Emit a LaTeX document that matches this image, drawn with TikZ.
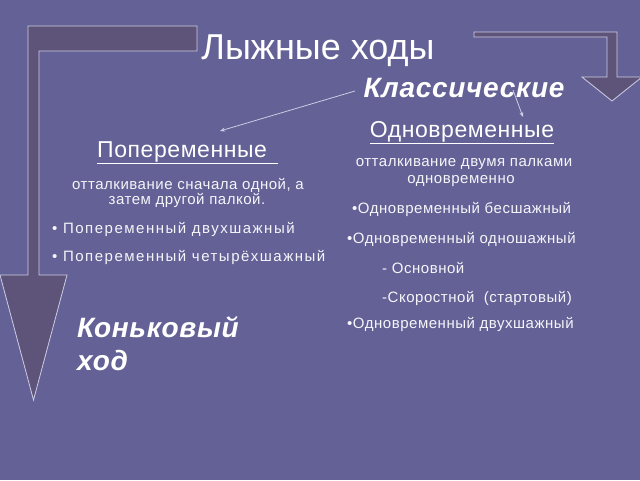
\documentclass[tikz,border=0pt]{standalone}
\usepackage{fontspec}
\setmainfont{Liberation Sans}
\newfontfamily\bodyfont[LetterSpace=3.5]{Liberation Sans}
\newfontfamily\widefont[LetterSpace=10]{Liberation Sans}
\newfontfamily\headfont[LetterSpace=2.5]{Liberation Sans}
\newfontfamily\subfont[LetterSpace=2.5]{Liberation Sans}
\usetikzlibrary{arrows.meta}
\definecolor{bg}{RGB}{99,97,149}
\definecolor{arrfill}{RGB}{94,84,122}
\definecolor{arredge}{RGB}{205,205,228}
\definecolor{txt}{RGB}{245,245,250}
\begin{document}
\begin{tikzpicture}[x=1pt,y=-1pt,
  bent/.style={fill=arrfill,draw=arredge,line width=0.8pt,line join=miter},
  conn/.style={draw=arredge,line width=0.8pt,-{Stealth[length=5pt,width=4pt]}},
  ttl/.style={text=white,inner sep=0pt,font=\fontsize{36}{40}\selectfont},
  head/.style={text=white,inner sep=0pt,font=\headfont\fontsize{28}{31}\selectfont\bfseries\itshape},
  sub/.style={text=white,inner sep=0pt,font=\subfont\fontsize{23}{26}\selectfont},
  body/.style={text=txt,inner sep=0pt,font=\bodyfont\fontsize{15}{17}\selectfont},
  wbody/.style={text=txt,inner sep=0pt,font=\widefont\fontsize{15}{17}\selectfont}]
\useasboundingbox (0,0) rectangle (640,480);
\fill[bg] (0,0) rectangle (640,480);
% left bent arrow
\draw[bent] (28,26) -- (197,26) -- (197,51) -- (39,51) -- (39,275) -- (67,275)
  -- (33.5,400) -- (0,275) -- (28,275) -- cycle;
% right bent arrow
\draw[bent] (474,32) -- (617,32) -- (617,77) -- (642,77) -- (612,101) -- (582,77)
  -- (607,77) -- (607,37) -- (474,37) -- cycle;
% title
\node[ttl,anchor=base] (title) at (318,59) {Лыжные ходы};
\node[head,anchor=base] (klass) at (464,97) {Классические};
\node[sub,anchor=base] (odn) at (462,137) {\underline{Одновременные}};
\node[sub,anchor=base west] (pop) at (97,157) {\underline{Попеременные\ \,}};
% connectors
\coordinate (k1) at (355,91);
\coordinate (k1e) at (220,131);
\coordinate (k2) at (513,90);
\coordinate (k2e) at (523,117);
\draw[conn] (k1) -- (k1e);
\draw[conn] (k2) -- (k2e);
% left column
\node[body,anchor=base] (pd1) at (188,189) {отталкивание сначала одной, а};
\node[body,anchor=base] (pd2) at (187,204) {затем другой палкой.};
\node[wbody,anchor=base west] (pb1) at (52,233) {•\ Попеременный двухшажный};
\node[wbody,anchor=base west] (pb2) at (52,261) {•\ Попеременный четырёхшажный};
% right column
\node[body,anchor=base] (od1) at (464,166) {отталкивание двумя палками};
\node[body,anchor=base] (od2) at (461,183) {одновременно};
\node[body,anchor=base west] (ob1) at (352,213) {•Одновременный бесшажный};
\node[body,anchor=base west] (ob2) at (347,243) {•Одновременный одношажный};
\node[body,anchor=base west] (ob3) at (382,273) {- Основной};
\node[body,anchor=base west] (ob4) at (382,302) {-Скоростной\ \ (стартовый)};
\node[body,anchor=base west] (ob5) at (347,328) {•Одновременный двухшажный};
% skating
\node[head,anchor=base west] (kon1) at (77,337) {Коньковый};
\node[head,anchor=base west] (kon2) at (77,370) {ход};
\end{tikzpicture}
\end{document}
